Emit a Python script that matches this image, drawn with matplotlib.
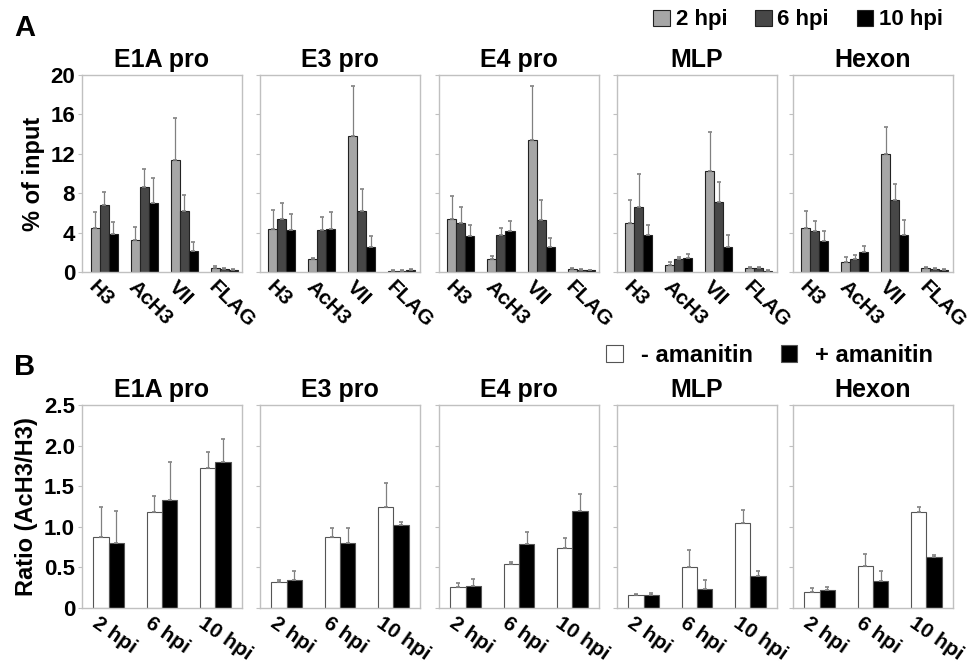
import numpy as np
import matplotlib
matplotlib.use('Agg')
import matplotlib.pyplot as plt
import matplotlib.transforms as mtrans

plt.rcParams['font.family'] = ['Liberation Sans', 'DejaVu Sans']
plt.rcParams['font.weight'] = 'bold'

# ---------------- data ----------------
regions = ['E1A pro', 'E3 pro', 'E4 pro', 'MLP', 'Hexon']

# panel A : % of input, groups H3 / AcH3 / VII / FLAG
a_cats = ['H3', 'AcH3', 'VII', 'FLAG']
a_series = ['2 hpi', '6 hpi', '10 hpi']
# values[region][series][cat]
a_vals = {
    'E1A pro': [[4.47, 3.29, 11.36, 0.40], [6.81, 8.68, 6.20, 0.30], [3.86, 6.98, 2.10, 0.25]],
    'E3 pro':  [[4.34, 1.29, 13.80, 0.15], [5.36, 4.24, 6.17, 0.15], [4.24, 4.34, 2.58, 0.25]],
    'E4 pro':  [[5.36, 1.30, 13.42, 0.30], [4.98, 3.75, 5.30, 0.25], [3.63, 4.16, 2.56, 0.20]],
    'MLP':     [[4.97, 0.72, 10.26, 0.40], [6.60, 1.33, 7.15, 0.40], [3.71, 1.43, 2.56, 0.15]],
    'Hexon':   [[4.46, 1.02, 12.00, 0.40], [4.12, 1.33, 7.36, 0.30], [3.17, 2.01, 3.75, 0.25]],
}
a_errs = {
    'E1A pro': [[1.67, 1.32, 4.30, 0.20], [1.36, 1.79, 1.66, 0.10], [1.26, 2.61, 0.98, 0.10]],
    'E3 pro':  [[2.00, 0.13, 5.08, 0.05], [1.62, 1.39, 2.30, 0.05], [1.69, 1.76, 1.11, 0.05]],
    'E4 pro':  [[2.33, 0.33, 5.48, 0.10], [1.60, 0.68, 2.00, 0.05], [1.18, 0.98, 0.94, 0.05]],
    'MLP':     [[2.29, 0.27, 3.94, 0.15], [3.30, 0.20, 2.02, 0.15], [1.09, 0.44, 1.22, 0.05]],
    'Hexon':   [[1.71, 0.51, 2.70, 0.10], [1.08, 0.44, 1.57, 0.10], [1.02, 0.68, 1.55, 0.05]],
}
a_ticks = [0, 4, 8, 12, 16, 20]

# panel B : ratio AcH3/H3, groups 2 / 6 / 10 hpi
b_cats = ['2 hpi', '6 hpi', '10 hpi']
b_series = ['- amanitin', '+ amanitin']
b_vals = {
    'E1A pro': [[0.87, 1.18, 1.73], [0.80, 1.33, 1.80]],
    'E3 pro':  [[0.32, 0.88, 1.25], [0.34, 0.80, 1.02]],
    'E4 pro':  [[0.26, 0.54, 0.74], [0.27, 0.79, 1.20]],
    'MLP':     [[0.16, 0.50, 1.05], [0.16, 0.24, 0.39]],
    'Hexon':   [[0.20, 0.52, 1.18], [0.22, 0.33, 0.63]],
}
b_errs = {
    'E1A pro': [[0.38, 0.20, 0.19], [0.39, 0.47, 0.28]],
    'E3 pro':  [[0.03, 0.10, 0.29], [0.11, 0.19, 0.04]],
    'E4 pro':  [[0.05, 0.03, 0.12], [0.09, 0.14, 0.21]],
    'MLP':     [[0.01, 0.21, 0.16], [0.02, 0.11, 0.06]],
    'Hexon':   [[0.05, 0.14, 0.06], [0.04, 0.12, 0.02]],
}
b_ticks = [0, 0.5, 1.0, 1.5, 2.0, 2.5]
b_ticklabels = ['0', '0.5', '1.0', '1.5', '2.0', '2.5']

a_colors = ['#a6a6a6', '#474747', '#000000']
b_colors = ['#ffffff', '#000000']

W, H = 970, 668
fig = plt.figure(figsize=(W / 100, H / 100), dpi=100)

lefts = [82, 260, 439, 617, 793]
aw = 160
YTICK_FS = 16
XTICK_FS = 15
TITLE_FS = 18


def px_axes(left, top, width, height):
    return fig.add_axes([left / W, 1 - (top + height) / H, width / W, height / H])


def style_axes(ax, first, yticks, ylabels, cats, rot, dx):
    for s in ax.spines.values():
        s.set_color('#c0c0c0')
        s.set_linewidth(1.0)
    ax.set_yticks(yticks)
    ax.tick_params(axis='y', length=3, color='#c0c0c0', pad=2)
    ax.tick_params(axis='x', length=0, pad=4)
    if first:
        ax.set_yticklabels(ylabels, fontsize=YTICK_FS, fontweight='bold')
    else:
        ax.tick_params(axis='y', labelleft=False)
    ax.set_xticks(np.arange(len(cats)))
    ax.set_xticklabels(cats, rotation=rot, ha='left', va='top', rotation_mode='anchor',
                       fontsize=XTICK_FS, fontweight='bold')
    shift = mtrans.ScaledTranslation(dx / 100, 0, fig.dpi_scale_trans)
    for lab in ax.get_xticklabels():
        lab.set_transform(lab.get_transform() + shift)


err_kw = dict(ecolor='#808080', elinewidth=0.9, capsize=1.5, capthick=1.2)

# ---------------- panel A ----------------
bw = 0.225
xa = np.arange(len(a_cats))
a_handles = []
for k, reg in enumerate(regions):
    ax = px_axes(lefts[k], 75, aw, 197)
    for j in range(3):
        vals = a_vals[reg][j]
        errs = a_errs[reg][j]
        b = ax.bar(xa + (j - 1) * bw, vals, bw, color=a_colors[j], edgecolor='#222222',
                   linewidth=0.8, yerr=[np.zeros(len(errs)), errs], error_kw=err_kw,
                   label=a_series[j])
        if k == 0:
            a_handles.append(b)
    ax.set_xlim(-0.55, 3.45)
    ax.set_ylim(0, 20)
    ax.set_title(reg, fontsize=TITLE_FS, fontweight='bold', pad=6)
    style_axes(ax, k == 0, a_ticks, [str(t) for t in a_ticks], a_cats, -45, -6)
    if k == 0:
        ax.set_ylabel('% of input', fontsize=17, fontweight='bold', labelpad=4)

# ---------------- panel B ----------------
bw2 = 0.29
xb = np.arange(len(b_cats))
b_handles = []
for k, reg in enumerate(regions):
    ax = px_axes(lefts[k], 405, aw, 203)
    for j in range(2):
        vals = b_vals[reg][j]
        errs = b_errs[reg][j]
        b = ax.bar(xb + (j - 0.5) * bw2, vals, bw2, color=b_colors[j], edgecolor='#555555',
                   linewidth=0.8, yerr=[np.zeros(len(errs)), errs], error_kw=err_kw,
                   label=b_series[j])
        if k == 0:
            b_handles.append(b)
    ax.set_xlim(-0.5, 2.5)
    ax.set_ylim(0, 2.5)
    ax.set_title(reg, fontsize=TITLE_FS, fontweight='bold', pad=6)
    style_axes(ax, k == 0, b_ticks, b_ticklabels, b_cats, -35, -9)
    if k == 0:
        ax.set_ylabel('Ratio (AcH3/H3)', fontsize=17, fontweight='bold', labelpad=4)

# legends
fig.legend(a_handles, a_series, loc='center right', bbox_to_anchor=(954 / W, 1 - 20 / H),
           ncol=3, frameon=False, prop=dict(size=16, weight='bold'), handlelength=0.75,
           handleheight=0.75, handletextpad=0.25, columnspacing=1.25, borderpad=0)
fig.legend(b_handles, b_series, loc='center right', bbox_to_anchor=(945 / W, 1 - 355 / H),
           ncol=2, frameon=False, prop=dict(size=17, weight='bold'), handlelength=0.7,
           handleheight=0.7, handletextpad=0.75, columnspacing=1.2, borderpad=0)

fig.text(14 / W, 1 - 28 / H, 'A', fontsize=21, fontweight='bold', va='center')
fig.text(14 / W, 1 - 367 / H, 'B', fontsize=21, fontweight='bold', va='center')

fig.savefig('out.png', dpi=100)
